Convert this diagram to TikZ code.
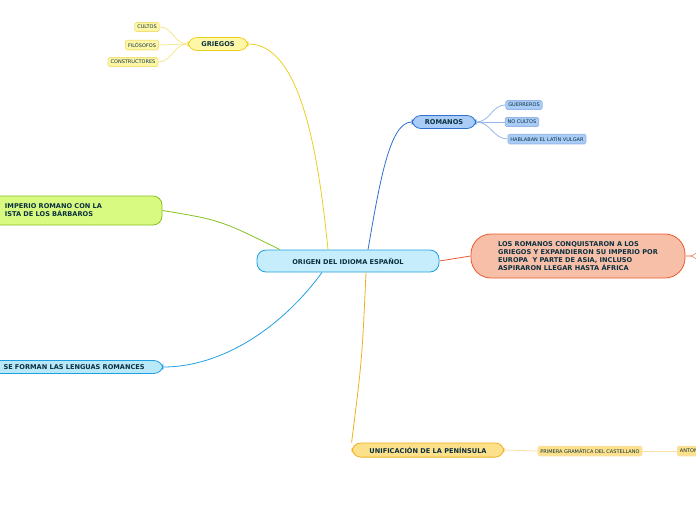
\documentclass[tikz,border=0pt]{standalone}
\usepackage{fontspec}
\setmainfont{DejaVu Sans}
\definecolor{ylwF}{HTML}{FFF7A8}\definecolor{ylwD}{HTML}{E8D020}
\definecolor{bluF}{HTML}{A9CDF7}\definecolor{bluD}{HTML}{2E6FD0}
\definecolor{redF}{HTML}{F8BFA8}\definecolor{redD}{HTML}{E85A30}
\definecolor{orgF}{HTML}{FDE08A}\definecolor{orgD}{HTML}{F0B020}
\definecolor{grnF}{HTML}{D8FA80}\definecolor{grnD}{HTML}{88C020}
\definecolor{cyaF}{HTML}{B8E8FA}\definecolor{cyaD}{HTML}{20A0E0}
\definecolor{txt}{HTML}{0A3040}
\tikzset{
	topic/.style={
		rectangle,
		draw,
		align=left,
		rounded corners=9pt,
		inner xsep=9pt,
		inner ysep=4pt,
		text=txt,
		font=\fontsize{6.6}{8}\selectfont\bfseries
	},
	leaf/.style={
		rectangle,
		draw,
		rounded corners=1.5pt,
		inner sep=2.5pt,
		text=txt,
		font=\fontsize{5}{6}\selectfont
	}
}
\begin{document}
\begin{tikzpicture}[x=1pt,y=-1pt,line width=0.8pt]
				\useasboundingbox (0,0) rectangle (696,520);
				\clip (0,0) rectangle (696,520);
				\node[topic, fill=cyaF!80, draw=cyaD, minimum width=182pt, minimum height=22pt, align=center](C) at (348,261){ORIGEN DEL IDIOMA ESPAÑOL};
				
				\node[topic, fill=ylwF, draw=ylwD, minimum width=60pt](G) at (218,44){GRIEGOS};
				\node[leaf, fill=ylwF, draw=ylwD!60](G1) at (147,27){CULTOS};
				\node[leaf, fill=ylwF, draw=ylwD!60](G2) at (142,45){FILÓSOFOS};
				\node[leaf, fill=ylwF, draw=ylwD!60](G3) at (133,62){CONSTRUCTORES};
				
				\node[topic, fill=bluF, draw=bluD, minimum width=64pt](R) at (444,122){ROMANOS};
				\node[leaf, fill=bluF, draw=bluD!50](R1) at (524,105){GUERREROS};
				\node[leaf, fill=bluF, draw=bluD!50](R2) at (522,122){NO CULTOS};
				\node[leaf, fill=bluF, draw=bluD!50](R3) at (547,139){HABLABAN EL LATÍN VULGAR};
				
				\node[topic, fill=redF, draw=redD, minimum width=214pt, minimum height=44pt, rounded corners=20pt, inner xsep=19pt](Q) at (578,256){LOS ROMANOS CONQUISTARON A LOS\\GRIEGOS Y EXPANDIERON SU IMPERIO POR\\EUROPA\ \ Y PARTE DE ASIA, INCLUSO\\ASPIRARON LLEGAR HASTA ÁFRICA};
				\coordinate (Q1) at (700,250);
				\coordinate (Q2) at (700,262);
				
				\node[topic, fill=orgF, draw=orgD, minimum width=152pt, align=center](U) at (428,450){UNIFICACIÓN DE LA PENÍNSULA};
				\node[leaf, fill=orgF, draw=orgD!40](U1) at (590,451){PRIMERA GRAMÁTICA DEL CASTELLANO};
				\node[leaf, fill=orgF, draw=orgD!40, anchor=west](U2) at (677,451){ANTONIO DE NEBRIJA};
				
				\node[topic, fill=grnF, draw=grnD, minimum width=182pt, minimum height=29pt, text width=170pt, inner xsep=1pt](B) at (71,210.5){\hspace*{19pt}IMPERIO ROMANO CON LA\\\hspace*{19pt}ISTA DE LOS BÁRBAROS};
				\node[topic, fill=cyaF, draw=cyaD, minimum width=173pt, inner xsep=1pt, text width=170pt](L) at (76.5,367){\hspace*{12pt}SE FORMAN LAS LENGUAS ROMANCES};
				
				\draw[ylwD] (C.north) ++(-20,0) .. controls (318,150) and (300,44) .. (G.east);
				\draw[bluD] (C.north) ++(20,0) .. controls (380,180) and (390,122) .. (R.west);
				\draw[redD] (C.east) .. controls (455,258) .. (Q.west);
				\draw[orgD] (C.south) ++(18,0) .. controls (362,360) .. (U.north west) ++(2,2);
				\draw[grnD] (C.north) ++(-68,0) .. controls (220,220) .. (B.east);
				\draw[cyaD] (C.south) ++(-26,0) .. controls (280,330) and (220,367) .. (L.east);
				\draw[redD!60] (Q.east) -- ++(4,0) .. controls ++(3,0) .. (Q1);
				\draw[redD!60] (Q.east) -- ++(4,0) .. controls ++(3,0) .. (Q2);
				\draw[orgD!40, thick] (U.east) -- (U1.west);
				\draw[orgD!40, thick] (U1.east) -- (U2.west);
				
				\foreach \n in {G1,G2,G3}
					\draw[ylwD!50] (G.west) .. controls ++(-14,0) and ++(14,0) .. (\n.east);
				\foreach \n in {R1,R2,R3}
					\draw[bluD!50] (R.east) .. controls ++(14,0) and ++(-14,0) .. (\n.west);
			\end{tikzpicture}
\end{document}
